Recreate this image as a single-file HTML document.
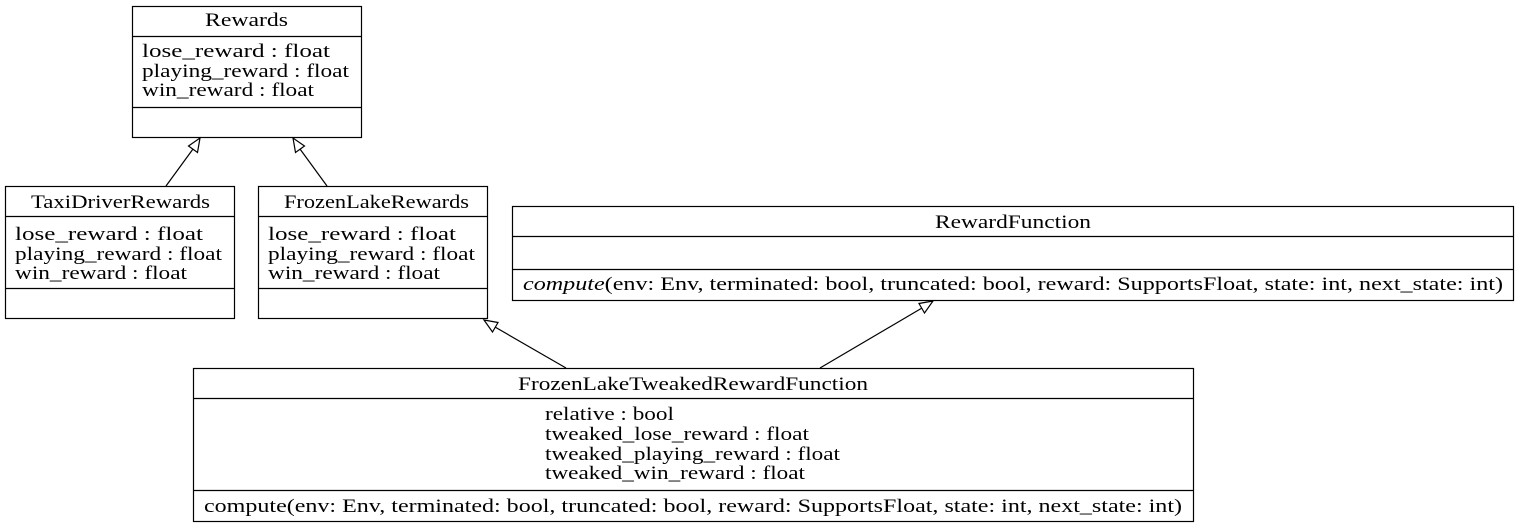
<!DOCTYPE html>
<html><head><meta charset="utf-8"><style>
html,body{margin:0;padding:0;background:#fff;}
svg{display:block;}
text{font-family:"Liberation Serif","DejaVu Serif",serif;font-size:19px;fill:#000;}
</style></head><body>
<svg width="1519" height="527" viewBox="0 0 1519 527" xmlns="http://www.w3.org/2000/svg">
<g fill="none" stroke="#000" stroke-width="1.2">
<rect x="132.5" y="6.5" width="229" height="131"/>
<line x1="132.5" y1="36.5" x2="361.5" y2="36.5"/>
<line x1="132.5" y1="107.5" x2="361.5" y2="107.5"/>
<rect x="5.5" y="186.5" width="229" height="132"/>
<line x1="5.5" y1="216.5" x2="234.5" y2="216.5"/>
<line x1="5.5" y1="288.5" x2="234.5" y2="288.5"/>
<rect x="258.5" y="186.5" width="229" height="132"/>
<line x1="258.5" y1="216.5" x2="487.5" y2="216.5"/>
<line x1="258.5" y1="288.5" x2="487.5" y2="288.5"/>
<rect x="512.5" y="206.5" width="1001" height="94"/>
<line x1="512.5" y1="236.5" x2="1513.5" y2="236.5"/>
<line x1="512.5" y1="269.5" x2="1513.5" y2="269.5"/>
<rect x="193.5" y="368.5" width="1000" height="153"/>
<line x1="193.5" y1="398.5" x2="1193.5" y2="398.5"/>
<line x1="193.5" y1="490.5" x2="1193.5" y2="490.5"/>
<line x1="166" y1="186" x2="193" y2="149"/>
<polygon points="200,138 188.5,146 197.5,152.5"/>
<line x1="327" y1="186" x2="300" y2="149"/>
<polygon points="293,138 295.5,152.5 304.5,146"/>
<line x1="566" y1="368" x2="495" y2="327"/>
<polygon points="484,320 492.5,332 498,322.5"/>
<line x1="820" y1="368" x2="922" y2="308"/>
<polygon points="933,301 919,303.5 924.5,313"/>
</g>
<g>
<text x="205" y="26" textLength="83" lengthAdjust="spacingAndGlyphs">Rewards</text>
<text x="142" y="57" textLength="188" lengthAdjust="spacingAndGlyphs">lose_reward : float</text>
<text x="142" y="77" textLength="207" lengthAdjust="spacingAndGlyphs">playing_reward : float</text>
<text x="142" y="96" textLength="172" lengthAdjust="spacingAndGlyphs">win_reward : float</text>
<text x="31" y="208" textLength="179" lengthAdjust="spacingAndGlyphs">TaxiDriverRewards</text>
<text x="15" y="240" textLength="188" lengthAdjust="spacingAndGlyphs">lose_reward : float</text>
<text x="15" y="260" textLength="207" lengthAdjust="spacingAndGlyphs">playing_reward : float</text>
<text x="15" y="279" textLength="172" lengthAdjust="spacingAndGlyphs">win_reward : float</text>
<text x="284" y="208" textLength="185" lengthAdjust="spacingAndGlyphs">FrozenLakeRewards</text>
<text x="268" y="240" textLength="188" lengthAdjust="spacingAndGlyphs">lose_reward : float</text>
<text x="268" y="260" textLength="207" lengthAdjust="spacingAndGlyphs">playing_reward : float</text>
<text x="268" y="279" textLength="172" lengthAdjust="spacingAndGlyphs">win_reward : float</text>
<text x="935" y="228" textLength="156" lengthAdjust="spacingAndGlyphs">RewardFunction</text>
<text x="523" y="290" textLength="980" lengthAdjust="spacingAndGlyphs"><tspan font-style="italic">compute</tspan>(env: Env, terminated: bool, truncated: bool, reward: SupportsFloat, state: int, next_state: int)</text>
<text x="518" y="390" textLength="350" lengthAdjust="spacingAndGlyphs">FrozenLakeTweakedRewardFunction</text>
<text x="545" y="420" textLength="129" lengthAdjust="spacingAndGlyphs">relative : bool</text>
<text x="545" y="440" textLength="264" lengthAdjust="spacingAndGlyphs">tweaked_lose_reward : float</text>
<text x="545" y="460" textLength="295" lengthAdjust="spacingAndGlyphs">tweaked_playing_reward : float</text>
<text x="545" y="479" textLength="260" lengthAdjust="spacingAndGlyphs">tweaked_win_reward : float</text>
<text x="204" y="512" textLength="978" lengthAdjust="spacingAndGlyphs">compute(env: Env, terminated: bool, truncated: bool, reward: SupportsFloat, state: int, next_state: int)</text>
</g>
</svg>
</body></html>
